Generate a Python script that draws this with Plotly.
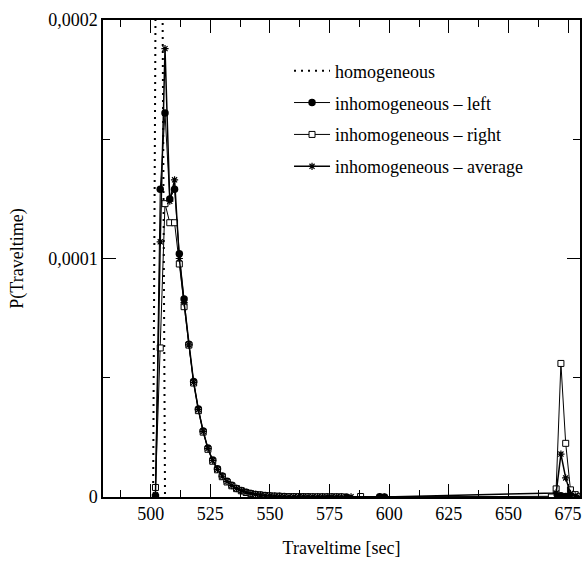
import plotly.graph_objects as go

# ---- data ----
homog_t = [501.0, 503.5, 506.0]
homog_p = [0.0, 0.0005, 0.0]

left_t = [502, 504, 506, 508, 510, 512, 514, 516, 518, 520, 522, 524, 526, 528, 530,
          532, 534, 536, 538, 540, 542, 544, 546, 548, 550, 552, 554, 556, 558, 560,
          562, 564, 566, 568, 570, 572, 574, 576, 578, 580, 582, 596, 598,
          670, 672, 674, 676, 678, 680]
left_p = [0.0000005, 0.000129, 0.000161, 0.000125, 0.000129, 0.000102, 0.000083, 0.000064,
          0.0000484, 0.0000369, 0.0000277, 0.0000205, 0.0000155, 0.0000118, 0.0000088,
          0.0000066, 0.0000049, 0.0000036, 0.0000027, 0.0000020, 0.0000015, 0.0000011,
          0.0000008, 0.0000006, 0.00000045, 0.00000035, 0.00000027, 0.0000002, 0.00000015,
          0.00000012, 0.0000001, 0.00000008, 0.00000006, 0.00000005, 0.00000004, 0.00000003,
          0.00000002, 0.00000002, 0.00000001, 0.00000001, 0.00000001, 0.0000001, 0.0,
          0.0000003, 0.0000005, 0.0000002, 0.0, 0.0, 0.0]

right_t = [502, 504, 506, 508, 510, 512, 514, 516, 518, 520, 522, 524, 526, 528, 530,
           532, 534, 536, 538, 540, 542, 544, 546, 548, 550, 552, 554, 556, 558, 560,
           562, 564, 566, 568, 570, 572, 574, 576, 578, 580, 588,
           668, 670, 672, 674, 676, 678, 680]
right_p = [0.000004, 0.0000625, 0.000123, 0.000115, 0.000115, 0.0000977, 0.0000798, 0.0000637,
           0.0000478, 0.0000362, 0.0000272, 0.0000200, 0.0000150, 0.0000114, 0.0000085,
           0.0000063, 0.0000047, 0.0000035, 0.0000026, 0.0000019, 0.0000014, 0.0000010,
           0.0000008, 0.0000006, 0.00000045, 0.00000035, 0.00000027, 0.0000002, 0.00000015,
           0.00000012, 0.0000001, 0.00000008, 0.00000006, 0.00000005, 0.00000004, 0.00000003,
           0.00000002, 0.00000002, 0.00000001, 0.00000001, 0.0000002,
           0.0, 0.0000034, 0.000056, 0.0000225, 0.000003, 0.000001, 0.0000003]

avg_t = [502, 504, 506, 508, 510, 512, 514, 516, 518, 520, 522, 524, 526, 528, 530,
         532, 534, 536, 538, 540, 542, 544, 546, 548, 550, 552, 554, 556, 558, 560,
         562, 564, 566, 568, 570, 572, 574, 576, 578, 580, 584, 596, 598,
         670, 672, 674, 676, 678, 680]
avg_p = [0.000001, 0.000107, 0.000188, 0.000124, 0.000133, 0.000100, 0.0000815, 0.0000638,
         0.0000481, 0.0000366, 0.0000275, 0.0000203, 0.0000153, 0.0000116, 0.0000087,
         0.0000065, 0.0000048, 0.0000036, 0.0000027, 0.0000020, 0.0000015, 0.0000011,
         0.0000008, 0.0000006, 0.00000045, 0.00000035, 0.00000027, 0.0000002, 0.00000015,
         0.00000012, 0.0000001, 0.00000008, 0.00000006, 0.00000005, 0.00000004, 0.00000003,
         0.00000002, 0.00000002, 0.00000001, 0.00000001, 0.0000001, 0.0000001, 0.0,
         0.0000017, 0.000018, 0.000008, 0.0000015, 0.0000005, 0.0]

x_ticks = [500, 525, 550, 575, 600, 625, 650, 675]
x_minor = [487.5, 512.5, 537.5, 562.5, 587.5, 612.5, 637.5, 662.5]
y_tickvals = [0, 0.0001, 0.0002]
y_ticktext = ["0", "0,0001", "0,0002"]
y_minor = [0.00005, 0.00015]

series_names = ["homogeneous", "inhomogeneous \u2013 left",
                "inhomogeneous \u2013 right", "inhomogeneous \u2013 average"]

FONT = "Liberation Serif, Times New Roman, serif"

fig = go.Figure()
fig.add_trace(go.Scatter(x=homog_t, y=homog_p, mode="lines", name=series_names[0],
                         line=dict(color="black", width=2, dash="2px,5px"),
                         legendgroup="a"))
fig.add_trace(go.Scatter(x=left_t, y=left_p, mode="lines+markers", name=series_names[1],
                         line=dict(color="black", width=1),
                         marker=dict(symbol="circle", size=7.5, color="black"),
                         legendgroup="b"))
fig.add_trace(go.Scatter(x=right_t, y=right_p, mode="lines+markers", name=series_names[2],
                         line=dict(color="black", width=1),
                         marker=dict(symbol="square", size=6, color="white",
                                     line=dict(color="black", width=1)),
                         legendgroup="c"))
fig.add_trace(go.Scatter(x=avg_t, y=avg_p, mode="lines+markers", name=series_names[3],
                         line=dict(color="black", width=1.5),
                         marker=dict(symbol="asterisk-open", size=6,
                                     line=dict(color="black", width=1.2)),
                         legendgroup="d"))

fig.update_layout(
    width=584, height=562,
    margin=dict(l=103, r=2, t=20, b=65),
    paper_bgcolor="white", plot_bgcolor="white",
    font=dict(family=FONT, size=18, color="black"),
    showlegend=True,
    legend=dict(x=0.39, y=0.932, xanchor="left", yanchor="top",
                bgcolor="rgba(0,0,0,0)", borderwidth=0, itemwidth=36,
                font=dict(family=FONT, size=18), tracegroupgap=5.5),
    xaxis=dict(range=[480, 680], tickvals=x_ticks, ticks="inside", ticklen=13,
               tickwidth=1, tickcolor="black",
               showline=True, linecolor="black", linewidth=1.5, mirror="ticks",
               showgrid=False, zeroline=False,
               minor=dict(ticks="inside", ticklen=7, tickcolor="black", tickvals=x_minor),
               title=dict(text="Traveltime [sec]", font=dict(size=18), standoff=18),
               tickfont=dict(size=18)),
    yaxis=dict(range=[0, 0.0002], tickvals=y_tickvals, ticktext=y_ticktext,
               ticks="inside", ticklen=13, tickwidth=1, tickcolor="black",
               showline=True, linecolor="black", linewidth=1.5, mirror="ticks",
               showgrid=False, zeroline=False,
               minor=dict(ticks="inside", ticklen=7, tickcolor="black", tickvals=y_minor),
               title=dict(text="P(Traveltime)", font=dict(size=18), standoff=20),
               tickfont=dict(size=18)),
)

fig.write_html("out.html")
